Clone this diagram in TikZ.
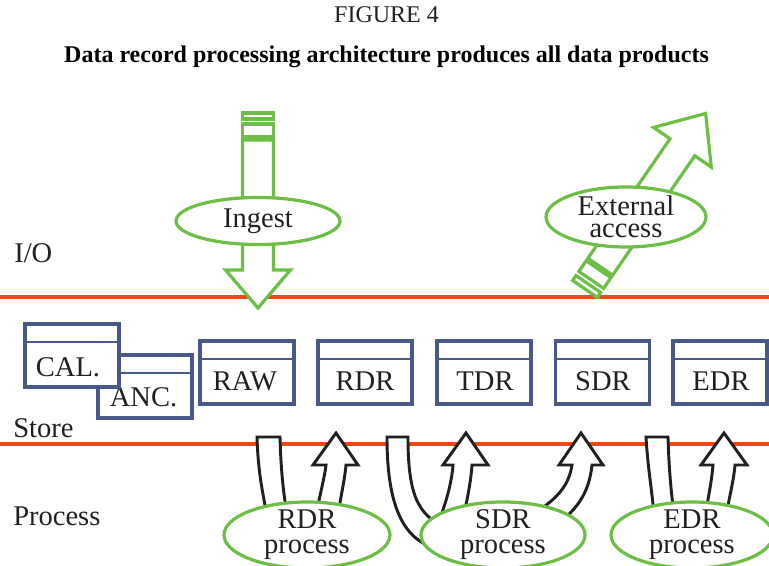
\documentclass[tikz,border=0pt]{standalone}
\usepackage{fontspec}
\setmainfont{Liberation Serif}
\usetikzlibrary{calc,shapes.geometric}
\definecolor{orangeline}{RGB}{236,72,20}
\definecolor{boxblue}{RGB}{72,88,135}
\definecolor{arrowgreen}{RGB}{109,190,69}
\definecolor{inkblack}{RGB}{35,31,32}
\newcommand\greenarrow[4]{%
  \draw[garrow] (0,-#4) rectangle (6,#4);
  \draw[garrow] (11,-#4) rectangle (24,#4);
  \draw[garrow] (27,-#4) -- ({#1-#2},-#4) -- ({#1-#2},-#3) -- (#1,0) -- ({#1-#2},#3) -- ({#1-#2},#4) -- (27,#4) -- cycle;
}
\begin{document}
\begin{tikzpicture}[x=0.75pt,y=-0.75pt,
  lane/.style={draw=orangeline,line width=2.3pt},
  store/.style={draw=boxblue,line width=2.4pt,fill=white,minimum width=70.5pt,minimum height=47.25pt,inner sep=0pt,outer sep=0pt},
  hdr/.style={draw=boxblue,line width=1.5pt},
  big/.style={font=\fontsize{21.4pt}{24pt}\selectfont,text=inkblack,inner sep=0pt},
  garrow/.style={draw=arrowgreen,line width=2.4pt,fill=white,line join=miter},
  gell/.style={ellipse,draw=arrowgreen,line width=2.4pt,fill=white,inner sep=0pt},
  barrow/.style={draw=inkblack,line width=2.2pt,fill=white,line join=miter},
  ]
\useasboundingbox (0,0) rectangle (769,566);
% titles
\node[font=\fontsize{18pt}{20pt}\selectfont,text=inkblack,anchor=base,inner sep=0pt] (fig) at (386.5,23) {FIGURE 4};
\node[font=\fontsize{18pt}{20pt}\selectfont\bfseries,text=black,anchor=base,inner sep=0pt] (title) at (386.5,63) {Data record processing architecture produces all data products};
% lanes
\coordinate (l1a) at (0,297); \coordinate (l1b) at (769,297);
\coordinate (l2a) at (0,444); \coordinate (l2b) at (769,444);
\draw[lane] (l1a) -- (l1b);
\draw[lane] (l2a) -- (l2b);
\node[big,anchor=base west] (io) at (14,263) {I/O};
\node[big,anchor=base west] (storelbl) at (13,438) {Store};
\node[big,anchor=base west] (proclbl) at (13,526) {Process};
% green arrows
\begin{scope}[shift={(258,113)},rotate=-90]
  \greenarrow{195}{38}{32.5}{15.5}
\end{scope}
\begin{scope}[shift={(585,289)},rotate=55.5]
  \greenarrow{213}{41}{35}{15}
\end{scope}
% boxes
\foreach \nm/\cx/\cy/\txt/\tx/\by in {anc/145/386.5/ANC./143.5/407, cal/72/355.5/CAL./68/377, raw/247/372.5/RAW/245/391, rdr/365/372.5/RDR/365/391, tdr/484/372.5/TDR/485/391, sdr/602.5/372.5/SDR/603/391, edr/720/372.5/EDR/721/391}{
  \node[store] (\nm) at (\cx,\cy) {};
  \draw[hdr] ($(\nm.north west)+(0,18)$) -- ($(\nm.north east)+(0,18)$);
  \node[big,anchor=base] (\nm t) at (\tx,\by) {\txt};
}
% black process arrows
\draw[barrow] (257,437) -- (280,437) .. controls (281,475) and (284,495) .. (287,515) -- (267,515) .. controls (262,490) and (258,470) .. (257,437) -- cycle;
\draw[barrow] (316,515) .. controls (321,490) and (325,475) .. (326,465) -- (313,465) -- (336,433) -- (358,465) -- (346,465) .. controls (345,478) and (341,495) .. (338,515) -- cycle;
\draw[barrow] (387,437) -- (408,437) .. controls (408,495) and (418,515) .. (445,527) -- (445,550) .. controls (405,545) and (387,510) .. (387,437) -- cycle;
\draw[barrow] (440,518) .. controls (447,500) and (452,480) .. (453,465) -- (443,465) -- (466,433) -- (488,465) -- (472,465) .. controls (471,480) and (468,495) .. (464,515) -- cycle;
\draw[barrow] (592,465) -- (603,465) -- (581,433) -- (559,465) -- (572,465) .. controls (569,485) and (558,498) .. (535,513) -- (552,528) .. controls (575,512) and (589,495) .. (592,465) -- cycle;
\draw[barrow] (646,437) -- (668,437) .. controls (669,470) and (671,490) .. (674,515) -- (654,515) .. controls (652,490) and (648,470) .. (646,437) -- cycle;
\draw[barrow] (705,515) .. controls (709,495) and (712,478) .. (713,465) -- (701,465) -- (724,433) -- (747,465) -- (735,465) .. controls (734,478) and (730,495) .. (726,515) -- cycle;
% ellipses
\node[gell,minimum width=123pt,minimum height=35.25pt] (ingest) at (258,221) {};
\node[big] (ingestt) at (ingest.center) {Ingest};
\node[gell,minimum width=120pt,minimum height=45pt] (ext) at (626,217) {};
\node[big,align=center,font=\fontsize{21.4pt}{16.5pt}\selectfont] (extt) at (ext.center) {External\\access};
\node[gell,minimum width=124.5pt,minimum height=49.5pt] (rdrp) at (307,535) {};
\node[big,align=center,font=\fontsize{21.4pt}{18.75pt}\selectfont] (rdrpt) at (rdrp.center) {RDR\\process};
\node[gell,minimum width=123pt,minimum height=49.5pt] (sdrp) at (503,535) {};
\node[big,align=center,font=\fontsize{21.4pt}{18.75pt}\selectfont] (sdrpt) at (sdrp.center) {SDR\\process};
\node[gell,minimum width=121.5pt,minimum height=49.5pt] (edrp) at (692,535) {};
\node[big,align=center,font=\fontsize{21.4pt}{18.75pt}\selectfont] (edrpt) at (edrp.center) {EDR\\process};
\end{tikzpicture}
\end{document}
